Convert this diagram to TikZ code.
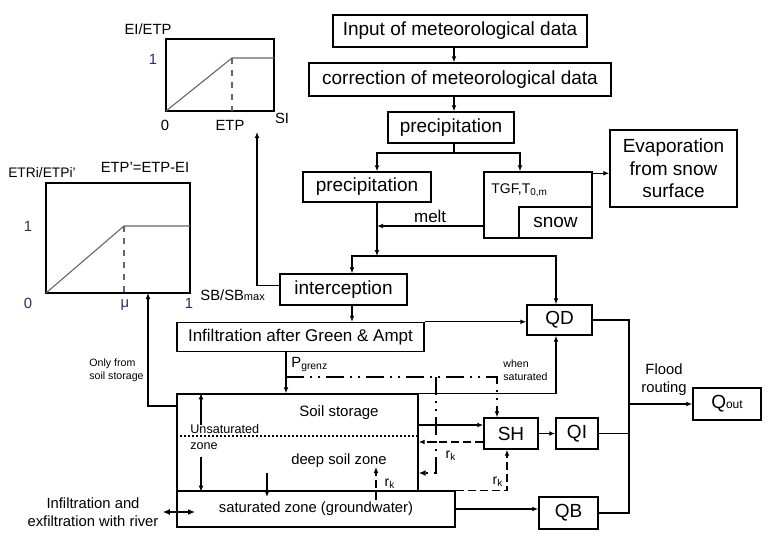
\documentclass[tikz,border=0pt]{standalone}
\usepackage{fontspec}
\setmainfont{Liberation Sans}
\usetikzlibrary{arrows.meta,positioning}
\definecolor{axisnum}{RGB}{45,45,95}

\begin{document}
\begin{tikzpicture}[x=0.5pt,y=-0.5pt]
        \tikzset{box/.style={draw, line width=0.7pt, inner sep=0pt, align=center,
                font=\fontsize{9.5}{11.2}\selectfont},
            lbl/.style={inner sep=0pt, align=center, font=\fontsize{7.4}{9}\selectfont},
            note/.style={inner sep=0pt, align=left, font=\fontsize{5.3}{6.5}\selectfont},
            sub/.style={inner sep=0pt, font=\fontsize{7}{8}\selectfont},
            arr/.style={-{Latex[length=3pt,width=2.4pt]}, line width=0.6pt},
            bigarr/.style={-{Latex[length=3.5pt,width=3pt]}, line width=1pt},
            dashline/.style={dash pattern=on 4pt off 2pt},
            pgrenzline/.style={line width=1.1pt, dash pattern=on 9pt off 3pt on 1pt off 3pt on 1pt off 3pt},
            zoneline/.style={line width=0.9pt, dash pattern=on 0.9pt off 1.1pt},
            frame/.style={line width=0.7pt},
            plot/.style={line width=0.55pt, black!60}}
        \useasboundingbox (0,0) rectangle (768,536);

        \node[box, minimum width=127pt, minimum height=16pt] (input) at (460,31) {Input of meteorological data};
        \node[box, minimum width=151pt, minimum height=16.5pt] (correct) at (460,79.5) {correction of meteorological data};
        \node[box, minimum width=63pt, minimum height=15.5pt] (precip) at (451,127.5) {precipitation};
        \node[box, minimum width=64pt, minimum height=15pt] (rain) at (367,187) {precipitation};
        \node[box, minimum width=54pt, minimum height=33pt] (snowbox) at (538,205) {};
        \node[box, minimum width=36.5pt, minimum height=15.5pt] (snow) at (555.5,222.5) {snow};
        \node[sub, anchor=west] (tgf) at (491,190) {TGF,T\textsubscript{0,m}};
        \node[box, minimum width=63.5pt, minimum height=38.5pt] (evap) at (673.5,168.5) {Evaporation\\from snow\\surface};
        \node[box, minimum width=63.5pt, minimum height=15.5pt] (intercept) at (343.5,289.5) {interception};
        \node[box, minimum width=123.5pt, minimum height=14.5pt, font=\fontsize{8.5}{10}\selectfont] (infil) at (300.5,337) {Infiltration after Green \& Ampt};
        \node[box, minimum width=32.5pt, minimum height=15pt] (QD) at (559.5,320) {QD};
        \node[box, minimum width=120.5pt, minimum height=48.5pt] (soil) at (297.5,442.5) {};
        \node[box, minimum width=139pt, minimum height=18pt, font=\fontsize{7.4}{9}\selectfont] (sat) at (316,509) {saturated zone (groundwater)};
        \node[box, minimum width=27pt, minimum height=15.5pt] (SH) at (511,433.5) {SH};
        \node[box, minimum width=21pt, minimum height=15.5pt] (QI) at (577,433.5) {QI};
        \node[box, minimum width=29.5pt, minimum height=16pt] (QB) at (568.5,513) {QB};
        \node[box, minimum width=34pt, minimum height=16pt] (Qout) at (727,404) {Q{\fontsize{6}{7}\selectfont out}};

        \node[lbl, font=\fontsize{7.5}{9}\selectfont] (soiltxt) at (339,413) {Soil storage};
        \node[lbl] (deeptxt) at (339,461) {deep soil zone};
        \node[lbl, anchor=west, align=left, font=\fontsize{6.3}{8}\selectfont] (unsat) at (190,437) {Unsaturated\\zone};
        \node[lbl, anchor=west] (pgrenz) at (291,364) {P\textsubscript{grenz}};
        \node[note, anchor=west] (whensat) at (503,370) {when\\saturated};
        \node[note, anchor=west] (onlyfrom) at (89,370) {Only from\\soil storage};
        \node[lbl] (river) at (93,512) {Infiltration and\\exfiltration with river};
        \node[lbl] (flood) at (664,380) {Flood\\routing};

        \coordinate (xa) at (454,0);
        \coordinate (split) at (454,153);
        \coordinate (xrain) at (377,0);
        \coordinate (xsnow) at (520,0);
        \coordinate (meltpt) at (377,226);
        \coordinate (join) at (377,256);
        \coordinate (xint) at (352,0);
        \coordinate (xqd) at (556,0);
        \coordinate (xpg) at (286,0);
        \coordinate (eitip) at (257,132);
        \coordinate (ettip) at (148,293);
        \coordinate (onlyy) at (0,406);
        \coordinate (dotlev) at (0,436);
        \coordinate (ddstart) at (286,377);
        \coordinate (ddturn) at (436,377);
        \coordinate (ddback) at (436,473);
        \coordinate (percA) at (267,473);
        \coordinate (percB) at (267,497);
        \coordinate (capA) at (376,500);
        \coordinate (capB) at (376,467);
        \coordinate (unA) at (201,425);
        \coordinate (unB) at (201,457);
        \coordinate (rivB) at (195,512);
        \coordinate (bus) at (629,0);
        \coordinate (evapout) at ([yshift=-1pt]snowbox.north east);
        \coordinate (shin) at ([yshift=4.25pt]SH.west);
        \coordinate (shout) at ([yshift=-4.25pt]SH.west);

        \draw[arr] (input.south -| xa) -- (correct.north -| xa);
        \draw[arr] (correct.south -| xa) -- (precip.north -| xa);
        \draw[line width=0.6pt] (precip.south -| xa) -- (split);
        \draw[arr] (split) -| (rain.north -| xrain);
        \draw[arr] (split) -| (snowbox.north -| xsnow);
        \draw[arr] (evapout) -- (evapout -| evap.west);
        \draw[arr] (snowbox.west |- meltpt) -- (meltpt)
            node[lbl, midway, above=1.5pt, font=\fontsize{8.5}{10}\selectfont] {melt};
        \draw[arr] (rain.south -| join) -- (join);
        \draw[arr] (join) -| (intercept.north -| xint);
        \draw[arr] (join) -| (QD.north -| xqd);
        \draw[arr] (intercept.south -| xint) -- (infil.north -| xint);
        \draw[arr] ([yshift=2pt]intercept.west) -| (eitip);
        \draw[arr] (infil.north east) -- (infil.north east -| QD.west);
        \draw[arr] (infil.south -| xpg) -- (soil.north -| xpg);
        \draw[arr] (soil.north east) -| (QD.south -| xqd);

        \draw[arr, pgrenzline] (ddstart) -| ([xshift=-7pt]SH.north);
        \draw[bigarr, pgrenzline] (ddturn) |- (soil.east |- ddback);

        \draw[arr] (soil.east |- shin) -- (shin);
        \draw[arr, dashline] (shout) -- (soil.east |- shout)
            node[sub, midway, below=4pt] {r\textsubscript{k}};
        \draw[arr] (SH) -- (QI);
        \draw[arr, dashline] (sat.north east) -| ([xshift=-2pt]SH.south)
            node[sub, pos=0.5, anchor=south east, inner sep=1.5pt] {r\textsubscript{k}};
        \draw[arr] (sat.east) -- (sat.east -| QB.west);
        \draw[bigarr] (percA) -- (percB);
        \draw[arr, dashline] (capA) -- (capB)
            node[sub, midway, right=4pt] {r\textsubscript{k}};
        \draw[arr] (unA) -- (soil.north -| unA);
        \draw[arr] (unB) -- (soil.south -| unB);
        \draw[zoneline] (soil.west |- dotlev) -- (soil.east |- dotlev);
        \draw[arr] (soil.west |- onlyy) -| (ettip);
        \draw[{Latex[length=3.5pt,width=3pt]}-{Latex[length=3.5pt,width=3pt]}, line width=1pt]
            ([xshift=2pt]river.east) -- (rivB);

        \draw[line width=0.6pt] (QD.east) -| (bus |- QB.east) -- (QB.east);
        \draw[line width=0.6pt] (QI.east) -- (QI.east -| bus);
        \draw[arr] (bus |- Qout.west) -- (Qout.west);

        \draw[frame] (166,39) rectangle (274,111);
        \draw[plot] (166,111) -- (232,58) -- (274,58);
        \draw[plot, dashed] (232,58) -- (232,111);
        \node[lbl] (eiaxis) at (148,29) {EI/ETP};
        \node[lbl, text=axisnum] (eione) at (153,59) {1};
        \node[lbl] (eizero) at (165,125) {0};
        \node[lbl] (eietp) at (230,125) {ETP};
        \node[lbl] (eisi) at (282,118) {SI};

        \draw[frame] (46,183) rectangle (190,293);
        \draw[plot] (46,293) -- (124,226) -- (190,226);
        \draw[plot, dashed] (124,226) -- (124,293);
        \node[lbl, font=\fontsize{6.9}{8}\selectfont] (etaxis) at (42,173) {ETRi/ETPi'};
        \node[lbl] (etpdef) at (145,167) {ETP'=ETP-EI};
        \node[lbl, text=axisnum] (etone) at (28,226) {1};
        \node[lbl, text=axisnum] (etzero) at (28,303) {0};
        \node[lbl, text=axisnum] (etmu) at (125,305) {μ};
        \node[lbl, text=axisnum] (etend) at (189,303) {1};
        \node[lbl, anchor=west] (etsb) at (200,295) {SB/SB{\fontsize{5.5}{6}\selectfont max}};
    \end{tikzpicture}
\end{document}
